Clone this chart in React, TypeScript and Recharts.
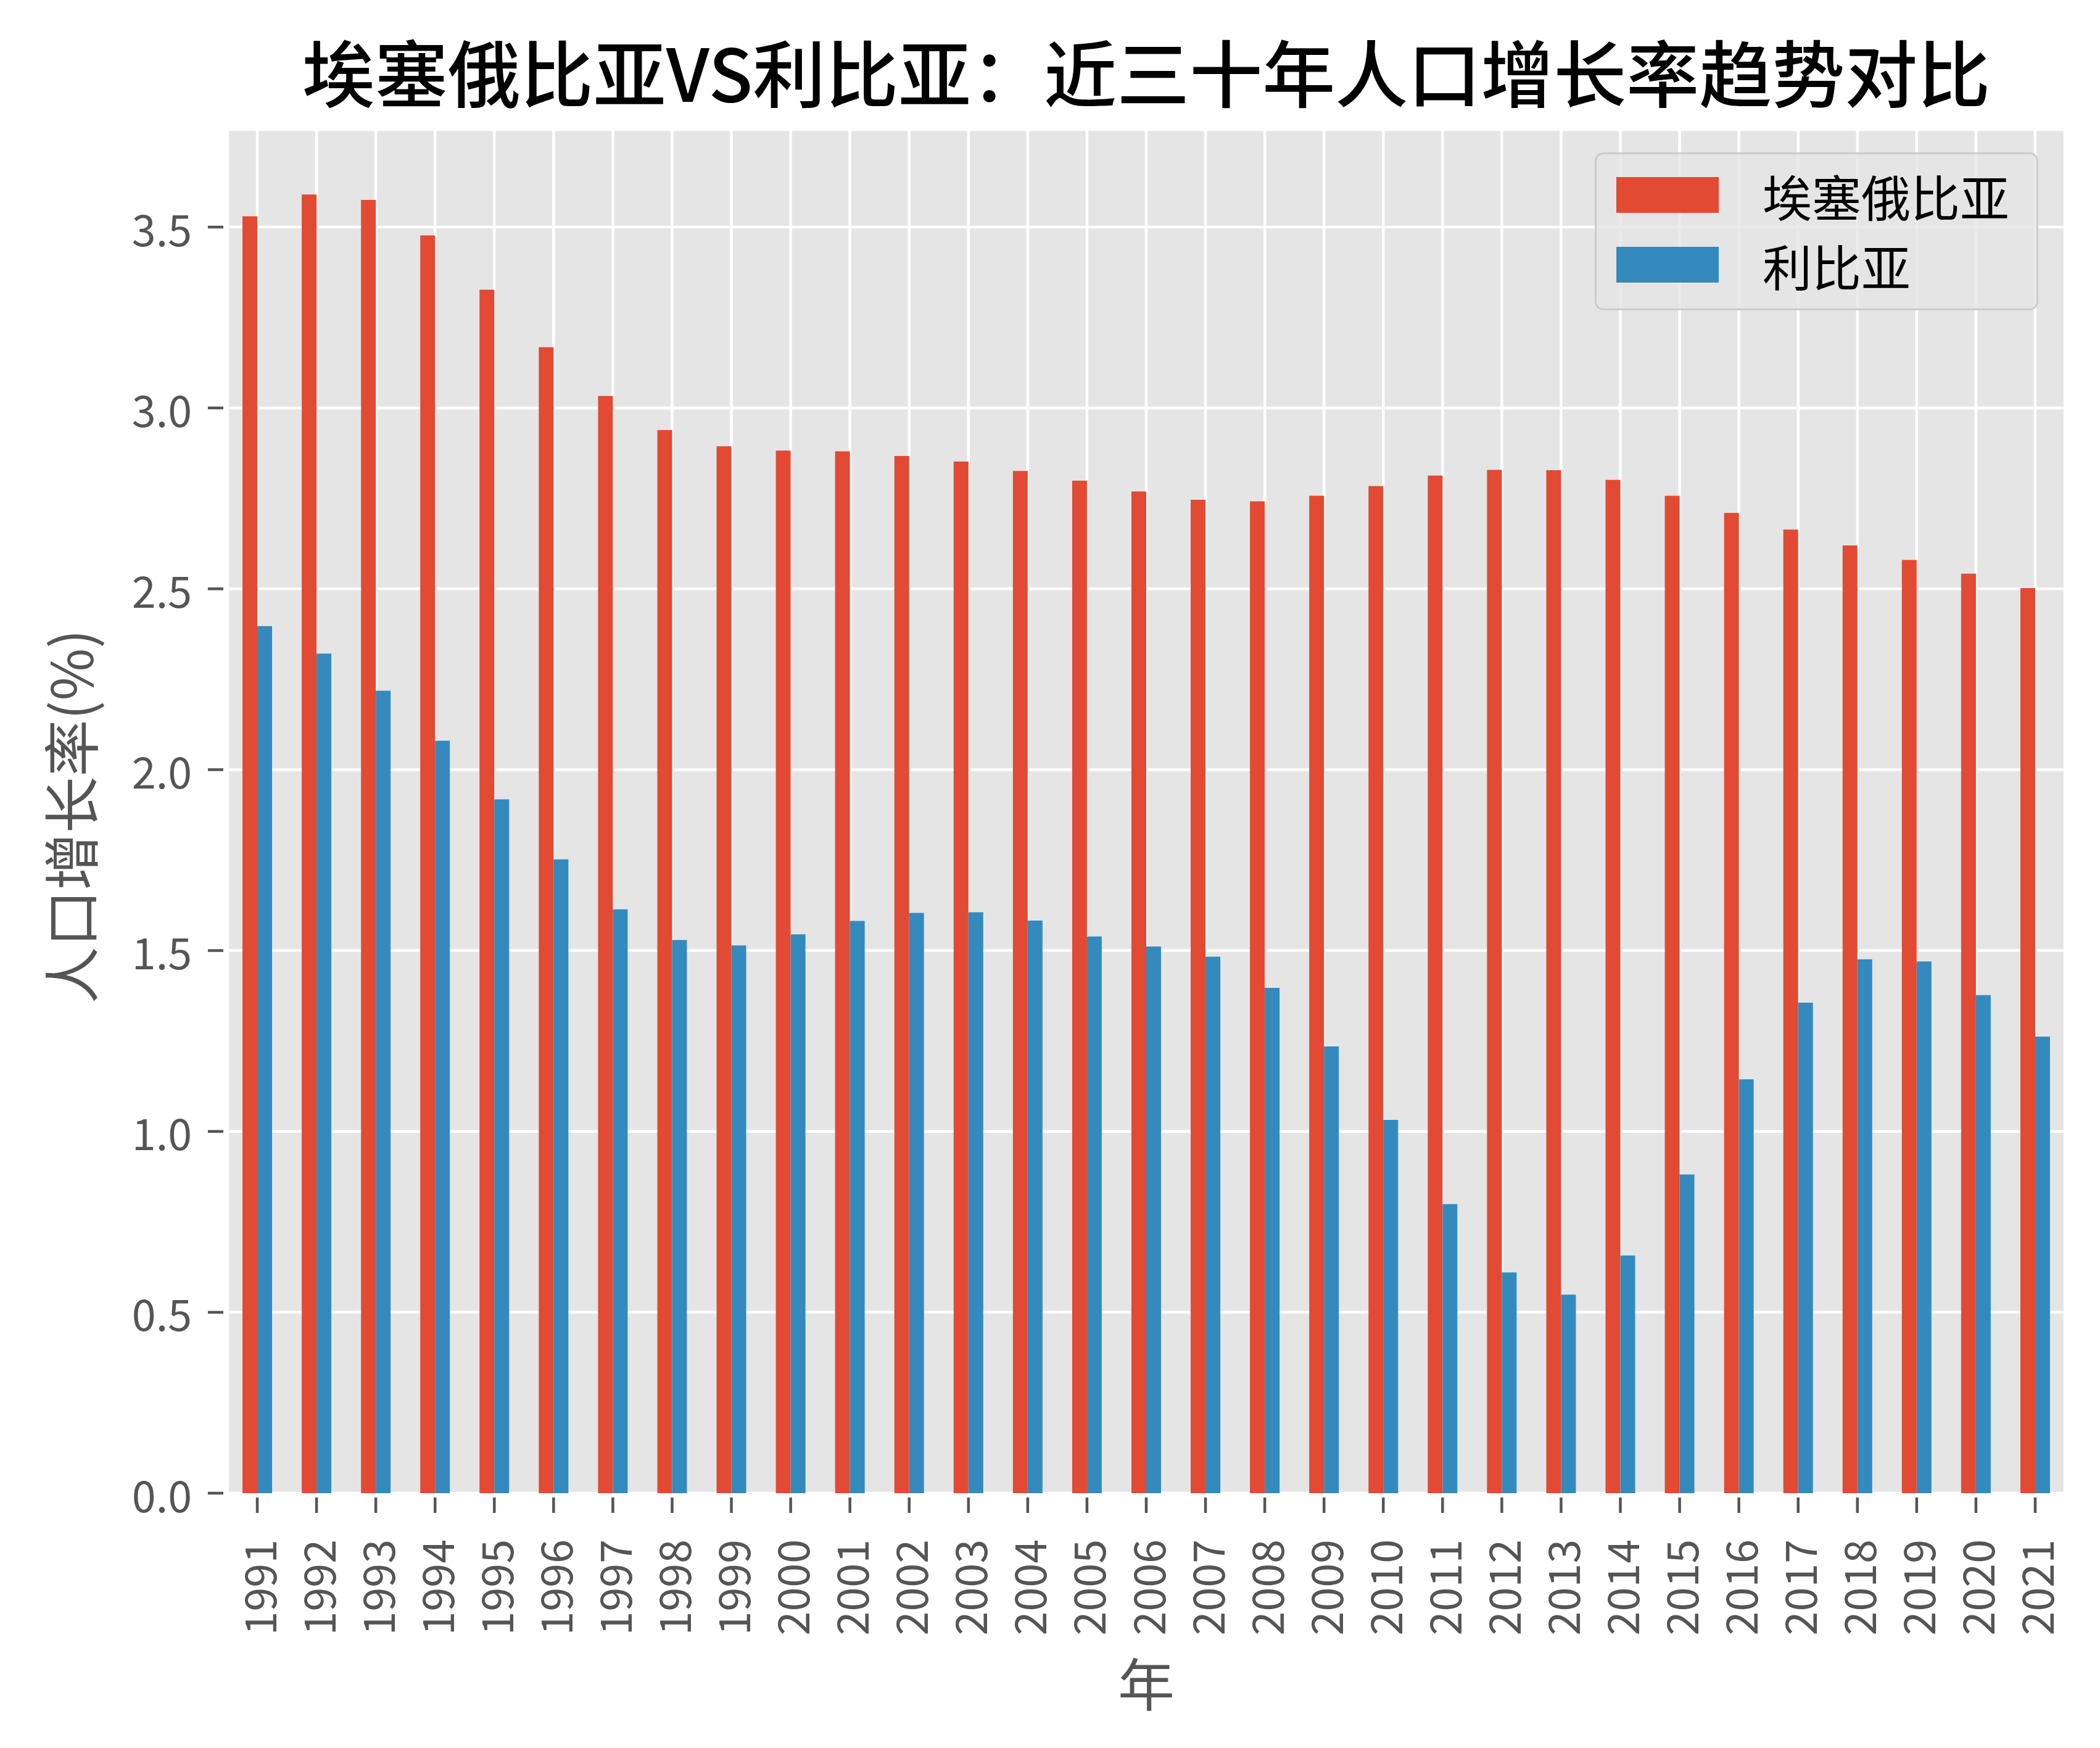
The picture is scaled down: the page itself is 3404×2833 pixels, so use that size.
import { BarChart, Bar, XAxis, YAxis, CartesianGrid, Legend, Label } from "recharts";

const YEARS = [
  "1991", "1992", "1993", "1994", "1995", "1996", "1997", "1998", "1999", "2000",
  "2001", "2002", "2003", "2004", "2005", "2006", "2007", "2008", "2009", "2010",
  "2011", "2012", "2013", "2014", "2015", "2016", "2017", "2018", "2019", "2020",
  "2021",
];

// 埃塞俄比亚
const ETHIOPIA = [
  3.53, 3.59, 3.575, 3.477, 3.327, 3.168, 3.033, 2.939, 2.894, 2.882,
  2.88, 2.867, 2.852, 2.826, 2.799, 2.769, 2.746, 2.742, 2.757, 2.784,
  2.813, 2.829, 2.828, 2.801, 2.757, 2.71, 2.664, 2.62, 2.58, 2.542,
  2.502,
];

// 利比亚
const LIBERIA = [
  2.397, 2.321, 2.218, 2.08, 1.918, 1.752, 1.614, 1.529, 1.514, 1.545,
  1.582, 1.604, 1.606, 1.583, 1.539, 1.511, 1.483, 1.397, 1.235, 1.032,
  0.799, 0.61, 0.549, 0.657, 0.881, 1.144, 1.356, 1.476, 1.47, 1.377,
  1.262,
];

const SERIES_NAMES = ["埃塞俄比亚", "利比亚"];
const Y_TICKS = [0, 0.5, 1, 1.5, 2, 2.5, 3, 3.5];

const TITLE = "埃塞俄比亚VS利比亚：近三十年人口增长率趋势对比";
const X_LABEL = "年";
const Y_LABEL = "人口增长率(%)";

const W = 3404;
const H = 2833;
const PLOT_LEFT = 369;
const PLOT_RIGHT = 3347;
const PLOT_TOP = 210;
const PLOT_BOTTOM = 2420;
const FONT = '"Noto Sans CJK SC", "Noto Sans", sans-serif';
const TEXT_GREY = "#555555";

const data = YEARS.map((year, i) => ({
  year,
  eth: ETHIOPIA[i],
  lib: LIBERIA[i],
}));

// matplotlib style autoscale: 5% headroom over the tallest bar
const yMax = Math.max(...ETHIOPIA, ...LIBERIA) * 1.05;

function XTick(props: any) {
  const { x, payload } = props;
  return (
    <g>
      <line x1={x} x2={x} y1={PLOT_BOTTOM + 7} y2={PLOT_BOTTOM + 32} stroke={TEXT_GREY} strokeWidth={4.5} />
      <text
        x={x}
        y={PLOT_BOTTOM + 75}
        transform={`rotate(-90, ${x}, ${PLOT_BOTTOM + 75})`}
        textAnchor="end"
        dominantBaseline="central"
        fontSize={70}
        fontFamily={FONT}
        fill={TEXT_GREY}
      >
        {payload.value}
      </text>
    </g>
  );
}

function YTick(props: any) {
  const { y, payload } = props;
  return (
    <g>
      <line x1={PLOT_LEFT - 32} x2={PLOT_LEFT - 7} y1={y} y2={y} stroke={TEXT_GREY} strokeWidth={4.5} />
      <text
        x={PLOT_LEFT - 58}
        y={y}
        textAnchor="end"
        dominantBaseline="central"
        fontSize={70}
        fontFamily={FONT}
        fill={TEXT_GREY}
      >
        {Number(payload.value).toFixed(1)}
      </text>
    </g>
  );
}

function LegendBox(props: any) {
  const items = [...(props.payload || [])].sort(
    (a: any, b: any) => SERIES_NAMES.indexOf(a.value) - SERIES_NAMES.indexOf(b.value)
  );
  return (
    <div
      style={{
        position: "relative",
        width: 719,
        height: 256,
        boxSizing: "border-box",
        background: "rgba(229,229,229,0.8)",
        border: "3px solid #CCCCCC",
        borderRadius: 14,
        fontFamily: FONT,
      }}
    >
      {items.map((item: any, i: number) => (
        <div
          key={item.value}
          style={{
            position: "absolute",
            left: 32,
            top: 37 + i * 113,
            height: 58,
            display: "flex",
            alignItems: "center",
          }}
        >
          <div style={{ width: 166, height: 58, background: item.color }} />
          <span style={{ marginLeft: 71, fontSize: 80, lineHeight: "58px", color: "#000" }}>
            {item.value}
          </span>
        </div>
      ))}
    </div>
  );
}

export default function App() {
  return (
    <div style={{ position: "absolute", left: 0, top: 0, width: W, height: H, background: "#fff" }}>
      <svg
        width={W}
        height={200}
        style={{ position: "absolute", left: 0, top: 0 }}
      >
        <text
          x={(PLOT_LEFT + PLOT_RIGHT) / 2}
          y={113}
          textAnchor="middle"
          dominantBaseline="central"
          fontSize={118}
          fontWeight={500}
          fontFamily={FONT}
          fill="#000"
        >
          {TITLE}
        </text>
      </svg>
      <BarChart
        width={W}
        height={H}
        data={data}
        margin={{ top: PLOT_TOP, right: W - PLOT_RIGHT, left: 0, bottom: 0 }}
        barCategoryGap="25%"
        barGap={0}
      >
        <CartesianGrid fill="#E5E5E5" stroke="#FFFFFF" strokeWidth={4.5} />
        <XAxis
          dataKey="year"
          height={H - PLOT_BOTTOM}
          axisLine={false}
          tickLine={false}
          interval={0}
          tick={<XTick />}
        >
          <Label
            content={(p: any) => {
              const vb = p.viewBox;
              return (
                <text
                  x={vb.x + vb.width / 2}
                  y={vb.y + 304}
                  textAnchor="middle"
                  dominantBaseline="central"
                  fontSize={92}
                  fontFamily={FONT}
                  fill={TEXT_GREY}
                >
                  {X_LABEL}
                </text>
              );
            }}
          />
        </XAxis>
        <YAxis
          width={PLOT_LEFT}
          domain={[0, yMax]}
          ticks={Y_TICKS}
          axisLine={false}
          tickLine={false}
          tick={<YTick />}
        >
          <Label
            content={(p: any) => {
              const vb = p.viewBox;
              const cx = 110;
              const cy = vb.y + vb.height / 2 + 8;
              return (
                <text
                  x={cx}
                  y={cy}
                  transform={`rotate(-90, ${cx}, ${cy})`}
                  textAnchor="middle"
                  dominantBaseline="central"
                  fontSize={92}
                  fontFamily={FONT}
                  fill={TEXT_GREY}
                >
                  {Y_LABEL}
                </text>
              );
            }}
          />
        </YAxis>
        <Legend
          layout="vertical"
          align="center"
          verticalAlign="middle"
          content={<LegendBox />}
          wrapperStyle={{ left: 2585, top: 247, width: 719, height: 256 }}
        />
        <Bar dataKey="eth" name={SERIES_NAMES[0]} fill="#E24A33" isAnimationActive={false} />
        <Bar dataKey="lib" name={SERIES_NAMES[1]} fill="#348ABD" isAnimationActive={false} />
      </BarChart>
    </div>
  );
}
